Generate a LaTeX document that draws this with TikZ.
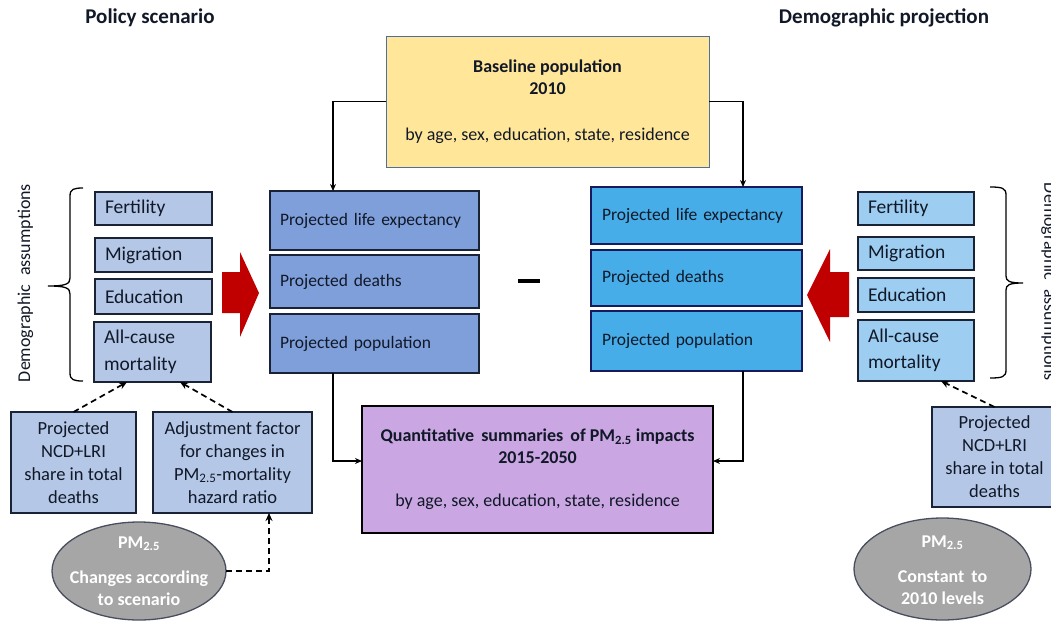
\documentclass[tikz,border=0pt]{standalone}
\usepackage{fontspec}
\setmainfont{Carlito}
\usetikzlibrary{arrows.meta,shapes.geometric}
\definecolor{basefill}{HTML}{FFE699}
\definecolor{baseline}{HTML}{4F6E9C}
\definecolor{lpfill}{HTML}{7F9FDA}
\definecolor{rpfill}{HTML}{47ADE8}
\definecolor{lsfill}{HTML}{B4C7E7}
\definecolor{rsfill}{HTML}{9DCEF2}
\definecolor{qfill}{HTML}{CAA6E2}
\definecolor{ellfill}{HTML}{A6A6A6}
\definecolor{redarr}{HTML}{C00000}
\definecolor{boxline}{HTML}{1A2236}
\definecolor{txt}{HTML}{111827}
\newcommand\myfsBig{\fontsize{21pt}{25pt}\selectfont}
\newcommand\myfsMid{\fontsize{18pt}{22pt}\selectfont}
\newcommand\myfsProj{\fontsize{17.5pt}{21pt}\selectfont}
\newcommand\myfsSmall{\fontsize{19.5pt}{26.5pt}\selectfont}
\newcommand\myfsBot{\fontsize{18.5pt}{23pt}\selectfont}
\begin{document}
\begin{tikzpicture}[x=1pt,y=-1pt,
  every node/.style={inner sep=0pt, outer sep=0pt, text=txt},
  bx/.style={draw=boxline, line width=1.4pt},
  projL/.style={bx, fill=lpfill, minimum width=209pt, text width=189pt, align=left, font=\myfsProj},
  projR/.style={bx, draw=boxline!80!blue, fill=rpfill, minimum width=211pt, text width=189pt, align=left, font=\myfsProj},
  smallL/.style={bx, fill=lsfill, minimum width=117pt, text width=97pt, align=left, font=\myfsSmall},
  smallR/.style={bx, fill=rsfill, minimum width=116pt, text width=96pt, align=left, font=\myfsSmall},
  botbox/.style={bx, fill=lsfill, align=center, font=\myfsBot},
  ell/.style={ellipse, draw=boxline!80, line width=1.3pt, fill=ellfill},
  elltxt/.style={text=white, font=\myfsMid\bfseries, align=center},
  arr/.style={line width=1.1pt, -{Stealth[length=7pt,width=6pt]}},
  darr/.style={line width=1.7pt, dash pattern=on 6pt off 4pt, -{Stealth[length=8pt,width=7pt]}},
  brc/.style={line width=1.3pt},
  vtxt/.style={font=\myfsMid}
]
\useasboundingbox (0,0) rectangle (1051,621);

% titles
\node[font=\myfsBig\bfseries] (tpol) at (150,18) {Policy scenario};
\node[font=\myfsBig\bfseries] (tdem) at (884,18) {Demographic projection};

% baseline
\node[bx, draw=baseline, line width=1pt, fill=basefill, minimum width=323pt, minimum height=131pt, align=center, font=\myfsMid] (base) at (547.5,101.5)
  {\textbf{Baseline population}\\\textbf{2010}\\[24pt]by age, sex, education, state, residence};

% projected boxes left
\node[projL, minimum height=59pt] (lp1) at (374.5,220.5) {Projected life expectancy};
\node[projL, minimum height=53pt] (lp2) at (374.5,281.5) {Projected deaths};
\node[projL, minimum height=59pt] (lp3) at (374.5,343.5) {Projected population};

% projected boxes right
\node[projR, minimum height=57pt] (rp1) at (696.5,215.5) {Projected life expectancy};
\node[projR, minimum height=56pt] (rp2) at (696.5,278) {Projected deaths};
\node[projR, minimum height=60pt] (rp3) at (696.5,341) {Projected population};

% minus sign
\coordinate (m1) at (518,281);
\coordinate (m2) at (540,281);
\draw[line width=3.2pt] (m1) -- (m2);

% small boxes left
\node[smallL, minimum height=33pt] (lf) at (153.5,208.5) {Fertility};
\node[smallL, minimum height=34pt] (lm) at (153.5,255) {Migration};
\node[smallL, minimum height=35pt] (le) at (153.5,296.5) {Education};
\node[smallL, minimum height=60pt] (la) at (152.5,352) {All-cause\\mortality};

% small boxes right
\node[smallR, minimum height=33pt] (rf) at (916,208.5) {Fertility};
\node[smallR, minimum height=33pt] (rm) at (916,253.5) {Migration};
\node[smallR, minimum height=34pt] (re) at (916,295) {Education};
\node[smallR, minimum height=61pt] (ra) at (916,350.5) {All-cause\\mortality};

% braces
\draw[brc] (83,188) .. controls (74,188) and (70,189) .. (70,196) -- (70,278)
  .. controls (70,284) and (66,286) .. (48,286)
  .. controls (66,286) and (70,288) .. (70,294) -- (70,373)
  .. controls (70,380) and (74,381) .. (83,381);
\draw[brc] (990,187) .. controls (1002,187) and (1006,188) .. (1006,195) -- (1006,276)
  .. controls (1006,281) and (1009,283) .. (1023,283)
  .. controls (1009,283) and (1006,285) .. (1006,290) -- (1006,370)
  .. controls (1006,377) and (1002,378) .. (990,378);
\node[vtxt, rotate=90] (vl) at (25.5,283) {Demographic\hspace{0.25em} assumptions};
\node[vtxt, rotate=-90] (vr) at (1049,282) {Demographic\hspace{0.25em} assumptions};

% red block arrows
\fill[redarr] (222,272) -- (240,272) -- (240,252) -- (259,293) -- (240,337) -- (240,313) -- (222,313) -- cycle;
\fill[redarr] (849,272) -- (830,272) -- (830,249) -- (807,295) -- (830,342) -- (830,317) -- (849,317) -- cycle;

% quantitative box
\node[bx, draw=black, fill=qfill, minimum width=351pt, minimum height=127pt, align=center, font=\fontsize{18pt}{22pt}\selectfont] (quant) at (537.5,469.5)
  {\textbf{Quantitative\, summaries\, of PM\textsubscript{2.5} impacts}\\\textbf{2015-2050}\\[21pt]by age, sex, education, state, residence};

% bottom boxes
\node[botbox, minimum width=125pt, minimum height=101pt] (ncdL) at (73.5,462.5) {Projected\\NCD+LRI\\share in total\\deaths};
\node[botbox, minimum width=159pt, minimum height=101pt] (adjL) at (232.5,462.5) {Adjustment factor\\for changes in\\PM\textsubscript{2.5}-mortality\\hazard ratio};
\node[botbox, minimum width=125pt, minimum height=100pt] (ncdR) at (994.5,457) {Projected\\NCD+LRI\\share in total\\deaths};

% ellipses
\node[ell, minimum width=174pt, minimum height=98pt] (ellL) at (139,571) {};
\node[elltxt] (ellLt) at (139,571) {PM\textsubscript{2.5}\\[13pt]Changes according\\to scenario};
\node[ell, minimum width=177pt, minimum height=102pt] (ellR) at (942.5,569) {};
\node[elltxt] (ellRt) at (942.5,570) {PM\textsubscript{2.5}\\[13pt]Constant\, to\\2010 levels};

% connectors
\draw[arr] (base.west) -| ([xshift=-41.5pt]lp1.north);
\draw[arr] (base.east) -| ([xshift=46.5pt]rp1.north);
\draw[arr] ([xshift=-41.5pt]lp3.south) |- ([yshift=8.5pt]quant.west);
\draw[arr] ([xshift=46.5pt]rp3.south) |- ([yshift=8.5pt]quant.east);

\draw[darr] (ncdL.north) -- ([xshift=-25.5pt]la.south);
\draw[darr] (adjL.north) -- ([xshift=27.5pt]la.south);
\draw[darr] (ellL.east) -| ([xshift=36.5pt]adjL.south);
\draw[darr] (ncdR.north) -- ([xshift=25pt]ra.south);
\end{tikzpicture}
\end{document}
